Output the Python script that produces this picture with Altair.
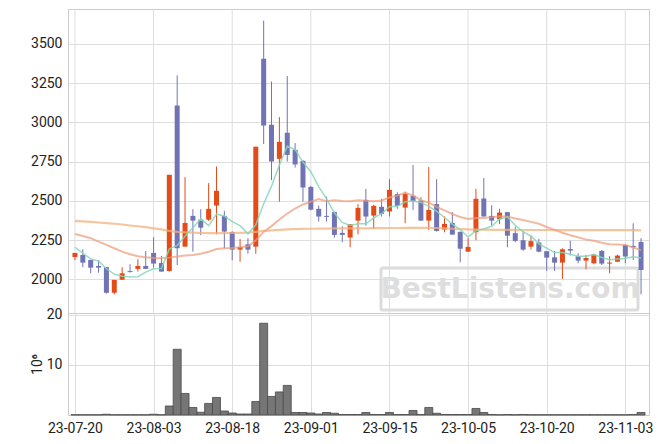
import altair as alt
import pandas as pd

dates = ["23-07-20","23-07-21","23-07-24","23-07-25","23-07-26","23-07-27","23-07-28","23-07-31",
"23-08-01","23-08-02","23-08-03","23-08-04","23-08-07","23-08-08","23-08-09","23-08-10","23-08-11","23-08-14","23-08-16","23-08-17","23-08-18",
"23-08-21","23-08-22","23-08-23","23-08-24","23-08-25","23-08-28","23-08-29","23-08-30","23-08-31","23-09-01",
"23-09-04","23-09-05","23-09-06","23-09-07","23-09-08","23-09-11","23-09-12","23-09-13","23-09-14","23-09-15",
"23-09-18","23-09-19","23-09-20","23-09-21","23-09-22","23-09-25","23-09-26","23-09-27","23-10-04","23-10-05",
"23-10-06","23-10-10","23-10-11","23-10-12","23-10-13","23-10-16","23-10-17","23-10-18","23-10-19","23-10-20",
"23-10-23","23-10-24","23-10-25","23-10-26","23-10-27","23-10-30","23-10-31","23-11-01","23-11-02","23-11-03",
"23-11-06","23-11-07"]

opens = [2142,2155,2123,2085,2077,1914,1997,2053,2066,2085,
         2168,2104,2053,3108,2208,2404,2380,2380,2470,2404,
         2302,2189,2223,2208,3406,2985,2768,2934,2825,2755,
         2589,2449,2404,2428,2296,2266,2374,2506,2406,2462,
         2432,2543,2457,2532,2502,2374,2479,2317,2359,2302,
         2176,2300,2515,2404,2383,2428,2294,2249,2208,2234,
         2179,2140,2106,2193,2147,2119,2102,2181,2100,2112,
         2219,2213,2238]
highs = [2168,2191,2125,2123,2077,1996,2077,2096,2128,2181,
         2268,2149,2666,3300,2651,2447,2447,2613,2719,2436,
         2305,2257,2262,2845,3649,3261,3034,3296,2868,2760,
         2595,2470,2527,2432,2338,2351,2479,2576,2475,2513,
         2638,2555,2559,2728,2523,2715,2638,2400,2428,2305,
         2262,2576,2645,2472,2449,2430,2336,2308,2278,2257,
         2181,2181,2198,2246,2166,2155,2163,2187,2147,2157,
         2221,2357,2262]
lows = [2121,2077,2038,2042,1908,1904,1997,2042,2049,2066,
        2074,2049,2049,2091,2208,2176,2281,2372,2287,2198,
        2121,2112,2163,2163,2862,2632,2495,2751,2712,2495,
        2440,2368,2368,2266,2236,2204,2287,2342,2321,2400,
        2400,2449,2357,2442,2372,2315,2304,2300,2283,2108,
        2176,2249,2400,2342,2351,2204,2236,2181,2191,2172,
        2053,2053,2002,2151,2102,2064,2096,2091,2038,2110,
        2102,2123,1904]
closes = [2168,2106,2074,2074,1914,1996,2038,2047,2085,2066,
          2100,2049,2666,2198,2359,2374,2329,2449,2564,2304,
          2189,2206,2189,2845,2980,2751,2876,2793,2732,2585,
          2444,2400,2398,2283,2283,2351,2455,2400,2468,2417,
          2570,2468,2545,2495,2374,2442,2308,2353,2285,2195,
          2206,2513,2400,2374,2425,2278,2245,2189,2243,2176,
          2138,2106,2191,2183,2119,2136,2157,2100,2106,2151,
          2145,2204,2059]
volumes_m = [0.05,0.05,0.05,0.05,0.15,0.05,0.05,0.05,0.05,0.05,
             0.15,0.05,1.8,13.1,4.3,1.5,0.55,2.3,3.5,0.8,
             0.4,0.2,0.2,2.7,18.3,3.7,4.6,5.9,0.5,0.5,
             0.4,0.2,0.5,0.35,0.1,0.1,0.1,0.5,0.1,0.1,
             0.5,0.1,0.1,0.9,0.1,1.5,0.35,0.1,0.1,0.1,
             0.1,1.3,0.5,0.1,0.05,0.1,0.05,0.1,0.05,0.05,
             0.05,0.05,0.05,0.05,0.05,0.05,0.05,0.05,0.05,0.05,
             0.05,0.1,0.5]
ma5 = [2204,2166,2130,2117,2067,2033,2019,2014,2016,2046,
       2067,2069,2193,2216,2274,2329,2385,2342,2415,2404,
       2367,2342,2290,2347,2482,2594,2728,2849,2826,2747,
       2686,2591,2512,2422,2362,2343,2354,2354,2391,2418,
       2462,2465,2494,2499,2490,2465,2433,2394,2352,2317,
       2269,2310,2320,2338,2384,2398,2344,2302,2276,2226,
       2198,2170,2171,2159,2147,2147,2157,2139,2124,2130,
       2132,2144,2136]
ma20 = [2289,2276,2262,2240,2219,2198,2176,2160,2147,2140,
        2136,2134,2138,2145,2151,2155,2163,2176,2193,2198,
        2199,2204,2210,2248,2302,2339,2381,2419,2451,2477,
        2494,2512,2498,2503,2499,2498,2504,2501,2497,2502,
        2521,2534,2552,2535,2504,2489,2461,2439,2416,2397,
        2385,2390,2391,2395,2402,2399,2388,2378,2366,2354,
        2333,2315,2297,2281,2268,2253,2246,2233,2224,2222,
        2219,2203,2186]
ma60 = [2372,2369,2366,2362,2358,2354,2349,2343,2338,2332,
        2325,2318,2308,2302,2299,2297,2295,2294,2294,2294,
        2295,2296,2297,2302,2308,2312,2315,2318,2320,2321,
        2322,2323,2323,2324,2324,2324,2325,2325,2326,2326,
        2327,2327,2328,2328,2328,2328,2327,2325,2322,2320,
        2318,2317,2316,2315,2315,2315,2314,2314,2314,2314,
        2314,2313,2313,2313,2313,2313,2313,2313,2313,2313,
        2313,2313,2312]
tick_idx = [0, 10, 20, 30, 40, 50, 60, 70]

RED = "#e34b19"
BLUE = "#7074b4"
GRID = "#dedede"

df = pd.DataFrame({
    "idx": list(range(len(dates))), "date": dates,
    "open": opens, "high": highs, "low": lows, "close": closes,
    "vol": volumes_m, "ma5": ma5, "ma20": ma20, "ma60": ma60,
})
ticks_df = pd.DataFrame({"idx": tick_idx})

label_expr = "[" + ",".join("'%s'" % d for d in dates) + "][datum.value]"
xscale = alt.Scale(domain=[-0.25, 72.375], nice=False, zero=False)
W = 581

x_top = alt.X("idx:Q", scale=xscale, axis=None)
yscale = alt.Scale(domain=[1785, 3723], nice=False, zero=False)
y_top_axis = alt.Axis(values=[2000, 2250, 2500, 2750, 3000, 3250, 3500], title=None, format="d",
                      ticks=False, domain=False, gridColor=GRID, labelPadding=6)

color_cond = alt.condition("datum.close >= datum.open", alt.value(RED), alt.value(BLUE))

vgrid = alt.Chart(ticks_df).mark_rule(color=GRID, strokeWidth=1).encode(x=x_top)

base = alt.Chart(df)
wick = base.mark_rule(strokeWidth=1).encode(
    x=x_top, y=alt.Y("low:Q", scale=yscale, axis=y_top_axis), y2="high:Q", color=color_cond)
body = base.mark_bar(width=5).encode(
    x=x_top, y=alt.Y("open:Q", scale=yscale), y2="close:Q", color=color_cond)
l60 = base.mark_line(strokeWidth=2.2, opacity=0.75, color="#f2b27e").encode(
    x=x_top, y=alt.Y("ma60:Q", scale=yscale))
l20 = base.mark_line(strokeWidth=2, opacity=0.7, color="#ee9a78").encode(
    x=x_top, y=alt.Y("ma20:Q", scale=yscale))
l5 = base.mark_line(strokeWidth=1.5, opacity=0.85, color="#86d6b8").encode(
    x=x_top, y=alt.Y("ma5:Q", scale=yscale))

wm = pd.DataFrame({"t": ["BestListens.com"]})
wm_box = alt.Chart(wm).mark_rect(filled=False, stroke="#dcdcdc", strokeWidth=3, cornerRadius=2).encode(
    x=alt.value(313), x2=alt.value(570), y=alt.value(259), y2=alt.value(301))
wm_text = alt.Chart(wm).mark_text(font="DejaVu Sans", fontWeight="bold", fontSize=28,
                                  color="#dedede", align="center", baseline="middle").encode(
    x=alt.value(442), y=alt.value(281), text="t:N")

top = alt.layer(vgrid, wm_box, wm_text, wick, body, l60, l20, l5).properties(width=W, height=304)

x_bot = alt.X("idx:Q", scale=xscale, title=None,
              axis=alt.Axis(values=tick_idx, labelExpr=label_expr, ticks=False, domain=False,
                            grid=True, gridColor=GRID, labelPadding=6, labelFontSize=14))
vol = alt.Chart(df).mark_bar(width=8, color="#767676", stroke="#4a4a4a", strokeWidth=0.8).encode(
    x=x_bot,
    y=alt.Y("vol:Q", scale=alt.Scale(domain=[0, 20.34], nice=False),
            axis=alt.Axis(values=[10, 20], title="10⁶", ticks=False, domain=False,
                          gridColor=GRID, labelPadding=6, titleFontSize=14,
                          titleFontWeight="normal", titlePadding=2)),
).properties(width=W, height=102)

chart = alt.vconcat(top, vol, spacing=0, bounds="flush").properties(
    padding={"left": 21, "top": 0, "right": 5, "bottom": 5}
).configure(font="Roboto").configure_axis(
    labelFontSize=14, labelColor="#222", titleColor="#222", labelFont="Roboto"
).configure_view(stroke="#cccccc")

chart.save("out.html", embed_options={"renderer": "svg", "actions": False})
